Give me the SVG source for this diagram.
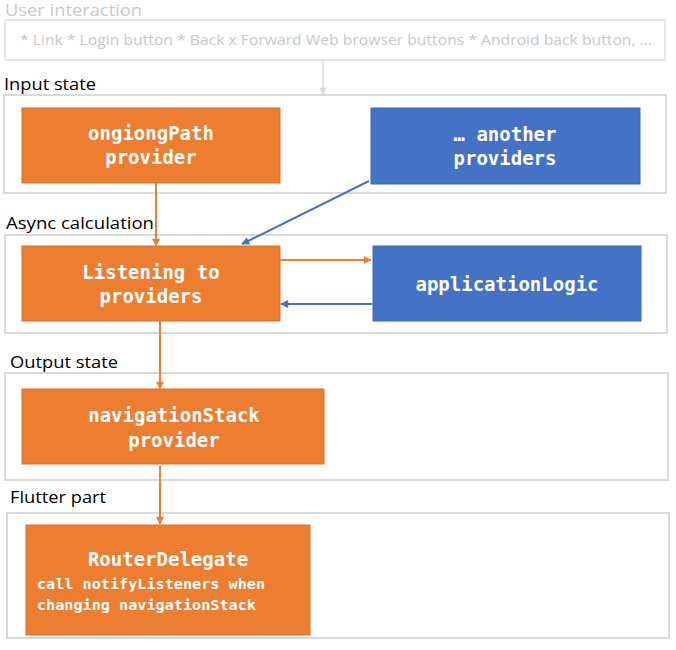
<svg xmlns="http://www.w3.org/2000/svg" width="676" height="650" viewBox="0 0 676 650">
<style>
.sec{fill:#ffffff;stroke:#d9d9d9;stroke-width:2}
.lbl{font-family:"Open Sans","Liberation Sans",sans-serif;font-size:17px;fill:#000}
.o{fill:#ED7D31;stroke:#d9702a;stroke-width:1}
.b{fill:#4472C4;stroke:#3d67b0;stroke-width:1}
.t{font-family:"DejaVu Sans Mono","Liberation Mono",monospace;font-weight:bold;font-size:19px;fill:#fff;text-anchor:middle}
.ts{font-family:"DejaVu Sans Mono","Liberation Mono",monospace;font-weight:bold;font-size:14px;fill:#fff}
.lo{stroke:#ED7D31;stroke-width:2;fill:none}
.lb{stroke:#4472C4;stroke-width:2;fill:none}
.lg{stroke:#d9d9d9;stroke-width:1.5;fill:none}
</style>
<defs>
<marker id="ao" viewBox="0 0 10 10" refX="9" refY="5" markerWidth="9" markerHeight="8" orient="auto" markerUnits="userSpaceOnUse"><path d="M0,0L10,5L0,10z" fill="#ED7D31"/></marker>
<marker id="ab" viewBox="0 0 10 10" refX="9" refY="5" markerWidth="9" markerHeight="8" orient="auto" markerUnits="userSpaceOnUse"><path d="M0,0L10,5L0,10z" fill="#4472C4"/></marker>
<marker id="ag" viewBox="0 0 10 10" refX="9" refY="5" markerWidth="8" markerHeight="7" orient="auto" markerUnits="userSpaceOnUse"><path d="M0,0L10,5L0,10z" fill="#d9d9d9"/></marker>
</defs>

<g id="user-interaction">
<text x="5" y="16" style="font-family:'Open Sans','Liberation Sans',sans-serif;font-size:16px;fill:#c8c8c8" textLength="137" lengthAdjust="spacingAndGlyphs">User interaction</text>
<rect x="5" y="20" width="660" height="40" class="sec" style="stroke:#e6e6e6"/>
<text x="20" y="45" style="font-family:'Open Sans','Liberation Sans',sans-serif;font-size:15px;fill:#c8c8c8" textLength="632" lengthAdjust="spacingAndGlyphs">* Link * Login button * Back x Forward Web browser buttons * Android back button, ...</text>
</g>

<g id="input-state">
<text x="4" y="90" class="lbl" textLength="92" lengthAdjust="spacingAndGlyphs">Input state</text>
<rect x="4" y="95" width="662" height="98" class="sec"/>
</g>
<g id="async-calculation">
<text x="6" y="229" class="lbl" textLength="148" lengthAdjust="spacingAndGlyphs">Async calculation</text>
<rect x="5" y="235" width="662" height="98" class="sec"/>
</g>
<g id="output-state">
<text x="10" y="368" class="lbl" textLength="108" lengthAdjust="spacingAndGlyphs">Output state</text>
<rect x="5" y="373" width="663" height="107" class="sec"/>
</g>
<g id="flutter-part">
<text x="10" y="503" class="lbl" textLength="96" lengthAdjust="spacingAndGlyphs">Flutter part</text>
<rect x="7" y="513" width="662" height="125" class="sec"/>
</g>

<g id="ongiongPath">
<rect x="22" y="108" width="258" height="75" class="o"/>
<text x="151" y="140" class="t">ongiongPath</text>
<text x="151" y="164" class="t">provider</text>
</g>
<g id="another-providers">
<rect x="371" y="108" width="269" height="76" class="b"/>
<text x="505" y="141" class="t">… another</text>
<text x="505" y="165" class="t">providers</text>
</g>
<g id="listening">
<rect x="22" y="246" width="258" height="75" class="o"/>
<text x="151" y="279" class="t">Listening to</text>
<text x="151" y="303" class="t">providers</text>
</g>
<g id="applicationLogic">
<rect x="373" y="246" width="268" height="75" class="b"/>
<text x="507" y="291" class="t">applicationLogic</text>
</g>
<g id="navigationStack">
<rect x="22" y="389" width="302" height="75" class="o"/>
<text x="174" y="422" class="t">navigationStack</text>
<text x="174" y="447" class="t">provider</text>
</g>
<g id="routerDelegate">
<rect x="26" y="525" width="284" height="110" class="o"/>
<text x="168" y="566" class="t">RouterDelegate</text>
<text x="37" y="589" class="ts" textLength="228" lengthAdjust="spacingAndGlyphs">call notifyListeners when</text>
<text x="37" y="610" class="ts" textLength="219" lengthAdjust="spacingAndGlyphs">changing navigationStack</text>
</g>

<g id="connectors">
<line x1="323" y1="60" x2="323" y2="94" class="lg" marker-end="url(#ag)"/>
<line x1="156" y1="183" x2="156" y2="246" class="lo" marker-end="url(#ao)"/>
<line x1="369" y1="181" x2="242" y2="244" class="lb" marker-end="url(#ab)"/>
<line x1="280" y1="260" x2="371" y2="260" class="lo" marker-end="url(#ao)"/>
<line x1="372" y1="304" x2="281" y2="304" class="lb" marker-end="url(#ab)"/>
<line x1="160" y1="321" x2="160" y2="389" class="lo" marker-end="url(#ao)"/>
<line x1="160" y1="466" x2="160" y2="524" class="lo" marker-end="url(#ao)"/>
</g>
</svg>
